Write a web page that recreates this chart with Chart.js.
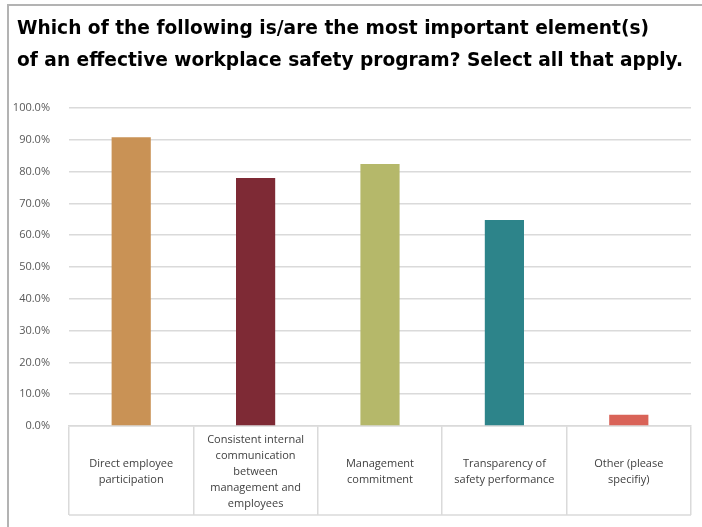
<!DOCTYPE html>
<html lang="en">
<head>
  <meta charset="UTF-8">
  <title>Workplace safety program elements</title>
  <script src="https://cdn.jsdelivr.net/npm/chart.js"></script>
  <style>
    body { margin: 0; background: #fff; }
    #wrap { position: relative; width: 702px; height: 527px; }
    #frame {
      position: absolute; left: 7px; top: 4px; right: 0; bottom: 0;
      border-left: 2px solid #b3b3b3; border-top: 2px solid #b3b3b3;
      pointer-events: none;
    }
  </style>
</head>
<body>
  <div id="wrap">
    <canvas id="safetyChart" width="702" height="527"></canvas>
    <div id="frame"></div>
  </div>
  <script>
    // data
    var categories = [
      ['Direct employee', 'participation'],
      ['Consistent internal', 'communication', 'between', 'management and', 'employees'],
      ['Management', 'commitment'],
      ['Transparency of', 'safety performance'],
      ['Other (please', 'specifiy)']
    ];
    var percentages = [90.8, 78.0, 82.4, 64.8, 3.5];
    var barColors = ['#C99255', '#7E2A35', '#B5B86A', '#2D848A', '#D96358'];
    var titleLines = [
      'Which of the following is/are the most important element(s)',
      'of an effective workplace safety program? Select all that apply.'
    ];

    // closes the label box under the categories, nudges the title right
    var boxBottom = {
      id: 'boxBottom',
      afterLayout: function(chart) {
        if (chart.titleBlock) chart.titleBlock.left = 17;
      },
      afterDraw: function(chart) {
        var x = chart.scales.x;
        var ctx = chart.ctx;
        ctx.save();
        ctx.strokeStyle = '#dadada';
        ctx.lineWidth = 1.5;
        ctx.beginPath();
        ctx.moveTo(x.left, x.bottom);
        ctx.lineTo(x.right, x.bottom);
        ctx.stroke();
        ctx.restore();
      }
    };

    var config = {
      type: 'bar',
      data: {
        labels: categories,
        datasets: [{
          data: percentages,
          backgroundColor: barColors,
          borderWidth: 0,
          categoryPercentage: 1,
          barPercentage: 0.315
        }]
      },
      options: {
        responsive: false,
        animation: false,
        layout: {
          padding: { left: 9, right: 11, top: 0, bottom: 12 }
        },
        plugins: {
          legend: { display: false },
          tooltip: { enabled: false },
          title: {
            display: true,
            text: titleLines,
            align: 'start',
            color: '#000',
            font: { family: 'DejaVu Sans', size: 18.6, weight: 'bold', lineHeight: 1.72 },
            padding: { top: 13, bottom: 31 }
          }
        },
        scales: {
          x: {
            offset: true,
            border: { display: true, color: '#dadada', width: 1.5 },
            grid: {
              offset: true,
              drawOnChartArea: false,
              drawTicks: true,
              tickLength: 89,
              color: '#dadada',
              lineWidth: 1.5
            },
            ticks: {
              padding: -75,
              crossAlign: 'center',
              maxRotation: 0,
              autoSkip: false,
              color: '#404040',
              font: { family: 'Open Sans', size: 11, lineHeight: 1.45 }
            },
            afterFit: function(scale) { scale.height = 89; }
          },
          y: {
            min: 0,
            max: 100,
            border: { display: false },
            grid: { color: '#dadada', lineWidth: 1.5, drawTicks: false },
            ticks: {
              stepSize: 10,
              padding: 19,
              color: '#595959',
              font: { family: 'Open Sans', size: 11 },
              callback: function(v) { return v.toFixed(1) + '%'; }
            },
            afterFit: function(scale) { scale.width = 60; }
          }
        }
      },
      plugins: [boxBottom]
    };

    var safetyChart = new Chart(document.getElementById('safetyChart'), config);
  </script>
</body>
</html>
